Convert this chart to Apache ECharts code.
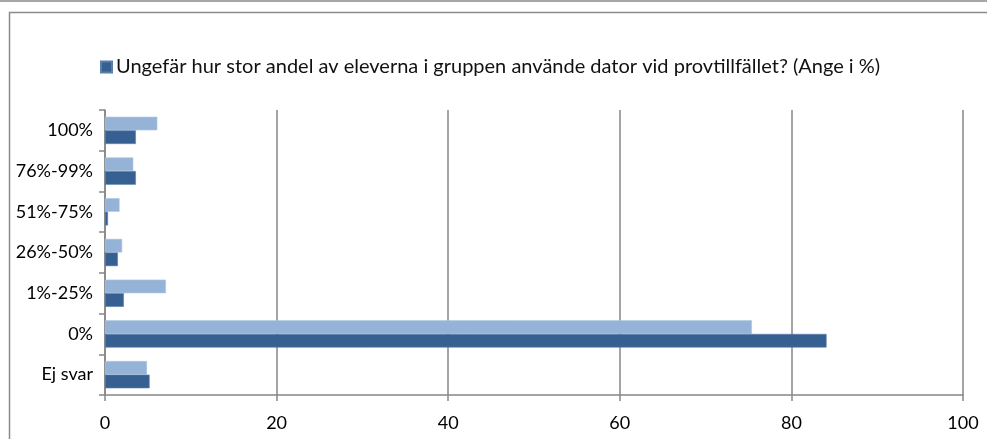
<!DOCTYPE html>
<html>
<head>
<meta charset="utf-8">
<script src="https://cdn.jsdelivr.net/npm/echarts@6/dist/echarts.min.js"></script>
<style>
  html, body { margin: 0; padding: 0; background: #fff; }
  #chart { width: 987px; height: 439px; }
</style>
</head>
<body>
<div id="chart"></div>
<script>
// Answer categories, listed bottom to top along the vertical axis
const categories = ['Ej svar', '0%', '1%-25%', '26%-50%', '51%-75%', '76%-99%', '100%'];

// Share of groups (%) per answer
const seriesName = 'Ungefär hur stor andel av eleverna i gruppen använde dator vid provtillfället? (Ange i %)';
const mainValues = [5.2, 84.1, 2.2, 1.5, 0.35, 3.6, 3.6];
const compareName = 'Jämförelse';
const compareValues = [4.9, 75.4, 7.1, 2.0, 1.7, 3.3, 6.1];

// Horizontal axis ticks
const xTicks = [0, 20, 40, 60, 80, 100];

const FONT = 'Lato';
const chart = echarts.init(document.getElementById('chart'), null, { renderer: 'canvas' });

chart.setOption({
  animation: false,
  backgroundColor: '#ffffff',
  textStyle: { fontFamily: FONT },
  graphic: [
    { type: 'line', shape: { x1: 0, y1: 1, x2: 987, y2: 1 }, style: { stroke: '#a6a6a6', lineWidth: 2 } },
    { type: 'rect', shape: { x: 9.5, y: 12.5, width: 1000, height: 500 }, style: { fill: 'none', stroke: '#8a8a8a', lineWidth: 1.5 } }
  ],
  legend: {
    data: [seriesName],
    left: 95,
    top: 52,
    itemWidth: 11,
    itemHeight: 11,
    itemGap: 5,
    icon: 'rect',
    textStyle: { fontFamily: FONT, fontSize: 20, color: '#111', padding: [0, 0, 0, -1] }
  },
  grid: { left: 105, right: 24, top: 110, bottom: 44 },
  xAxis: {
    type: 'value',
    min: xTicks[0],
    max: xTicks[xTicks.length - 1],
    interval: xTicks[1] - xTicks[0],
    axisLine: { show: true, lineStyle: { color: '#868686', width: 1.5 } },
    axisTick: { show: true, length: 6, lineStyle: { color: '#868686', width: 1.5 } },
    splitLine: { show: true, lineStyle: { color: '#868686', width: 1.5 } },
    axisLabel: { color: '#000', fontSize: 18, fontFamily: FONT, margin: 19 }
  },
  yAxis: {
    type: 'category',
    data: categories,
    axisLine: { show: true, lineStyle: { color: '#868686', width: 1.5 } },
    axisTick: { show: true, length: 6, lineStyle: { color: '#868686', width: 1.5 } },
    axisLabel: { color: '#000', fontSize: 18, fontFamily: FONT, margin: 12 }
  },
  series: [
    {
      name: compareName,
      type: 'bar',
      data: compareValues,
      barGap: '0%',
      barCategoryGap: '33%',
      itemStyle: { color: '#95b3d7', borderColor: '#b0c7e3', borderWidth: 0.6 }
    },
    {
      name: seriesName,
      type: 'bar',
      data: mainValues,
      barGap: '0%',
      barCategoryGap: '33%',
      itemStyle: { color: '#376092', borderColor: '#5a7fab', borderWidth: 0.6 }
    }
  ]
});
</script>
</body>
</html>
